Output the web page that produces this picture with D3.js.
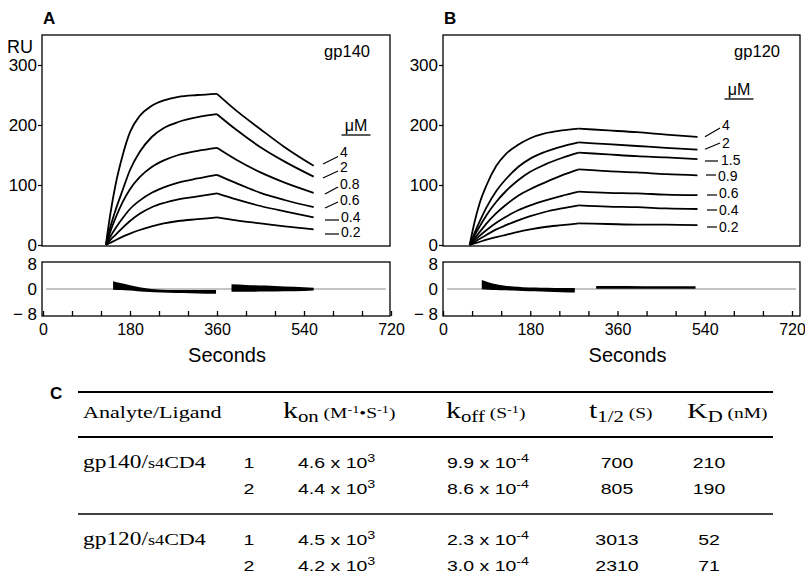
<!DOCTYPE html>
<html>
<head>
<meta charset="utf-8">
<script src="https://cdn.jsdelivr.net/npm/d3@7"></script>
<style>
  body { margin: 0; background: #fff; }
  text { white-space: pre; }
</style>
</head>
<body>
<svg id="fig" width="805" height="577"></svg>
<script>
// ---- sensorgrams, RU against seconds ----
const concA = ['4', '2', '0.8', '0.6', '0.4', '0.2'];
const assocTimeA = [130, 140, 150, 165, 180, 200, 225, 250, 280, 320, 360];
const assocA = [
  [0, 55, 100, 150, 188, 215, 232, 241, 247, 250, 252],
  [0, 32, 58, 92, 125, 155, 180, 195, 205, 213, 218],
  [0, 24, 45, 72, 93, 113, 130, 141, 150, 157, 162],
  [0, 15, 28, 45, 60, 74, 87, 96, 104, 111, 117],
  [0, 9, 17, 29, 40, 52, 63, 70, 76, 81, 86],
  [0, 4, 8, 14, 19, 25, 31, 36, 40, 43, 46]
];
const dissocTimeA = [360, 400, 450, 500, 560];
const dissocA = [
  [252, 224, 193, 163, 132],
  [218, 192, 163, 139, 114],
  [162, 142, 121, 104, 87],
  [117, 103, 87, 75, 63],
  [86, 76, 65, 56, 46],
  [46, 41, 36, 31, 26]
];

const concB = ['4', '2', '1.5', '0.9', '0.6', '0.4', '0.2'];
const assocTimeB = [55, 65, 75, 90, 110, 130, 155, 180, 210, 245, 280];
const assocB = [
  [0, 38, 68, 100, 132, 152, 167, 178, 186, 191, 194],
  [0, 20, 38, 63, 90, 110, 130, 144, 155, 164, 171],
  [0, 16, 30, 50, 72, 90, 108, 122, 134, 145, 154],
  [0, 11, 21, 36, 53, 67, 82, 93, 104, 116, 126],
  [0, 8, 15, 25, 37, 47, 58, 66, 74, 82, 89],
  [0, 5, 10, 17, 26, 33, 41, 48, 55, 61, 66],
  [0, 2.5, 5, 9, 13, 17, 22, 26, 30, 33, 36]
];
const dissocTimeB = [280, 340, 400, 460, 525];
const dissocB = [
  [194, 191, 188, 184, 180],
  [171, 168, 165, 162, 159],
  [154, 151, 148, 146, 143],
  [126, 123, 121, 118, 116],
  [89, 87, 86, 84, 83],
  [66, 64, 63, 61, 60],
  [36, 35, 34, 34, 33]
];

// residual bands (upper / lower edge)
const resTimeA1 = [145, 160, 180, 195, 210, 230, 260, 290, 320, 358];
const resHiA1 = [2.5, 1.9, 1.2, 0.7, 0.3, -0.1, -0.3, -0.3, -0.3, -0.3];
const resLoA1 = [-0.2, -0.3, -0.5, -0.7, -0.9, -1.0, -1.2, -1.3, -1.4, -1.5];
const resTimeA2 = [390, 420, 460, 500, 540, 560];
const resHiA2 = [1.5, 1.3, 1.1, 0.8, 0.6, 0.4];
const resLoA2 = [-0.9, -0.9, -0.8, -0.7, -0.6, -0.5];
const resTimeB1 = [80, 95, 110, 125, 145, 165, 190, 215, 245, 272];
const resHiB1 = [2.9, 2.1, 1.5, 1.1, 0.8, 0.6, 0.5, 0.4, 0.3, 0.3];
const resLoB1 = [-0.1, -0.2, -0.3, -0.4, -0.5, -0.6, -0.7, -0.9, -1.0, -1.1];
const resTimeB2 = [316, 380, 450, 521];
const resHiB2 = [1.0, 1.0, 0.9, 0.9];
const resLoB2 = [0.1, 0.1, 0.1, 0.1];

// ticks
const ruTicks = [0, 100, 200, 300];
const resTicks = [-8, 0, 8];
const timeTicks = [0, 60, 120, 180, 240, 300, 360, 420, 480, 540, 600, 660, 720];
const timeLabels = [0, 180, 360, 540, 720];

// ---- table C ----
const analytes = ['gp140', 'gp120'];
const runs = ['1', '2', '1', '2'];
const konMant = ['4.6', '4.4', '4.5', '4.2'];
const konExp = ['3', '3', '3', '3'];
const koffMant = ['9.9', '8.6', '2.3', '3.0'];
const koffExp = ['-4', '-4', '-4', '-4'];
const tHalf = ['700', '805', '3013', '2310'];
const kd = ['210', '190', '52', '71'];

const SANS = '"Liberation Sans", Arial, Helvetica, sans-serif';
const SERIF = '"Liberation Serif", "Times New Roman", serif';

const svg = d3.select('#fig').attr('font-family', SANS);

function zip(ts, vs) { return ts.map((t, i) => [t, vs[i]]); }

function drawPanel(p) {
    const x = d3.scaleLinear().domain([0, 720]).range(p.xr);
    const y = d3.scaleLinear().domain([0, 300]).range([245, 65]);
    const yr = d3.scaleLinear().domain([-8, 8]).range([314, 264]);
    const g = svg.append('g');

    g.append('text').text(p.letter)
        .attr('x', p.frame[0] + 1).attr('y', 24)
        .attr('font-weight', 'bold').attr('font-size', 17);

    // sensorgram box
    g.append('rect')
        .attr('x', p.frame[0]).attr('y', 35)
        .attr('width', p.frame[1] - p.frame[0]).attr('height', 211)
        .attr('fill', 'none').attr('stroke', '#000').attr('stroke-width', 1.3);

    g.append('g')
        .attr('transform', `translate(${p.frame[0]},0)`)
        .call(d3.axisLeft(y).tickValues(ruTicks).tickSize(4).tickPadding(1))
        .call(a => a.select('.domain').remove())
        .call(a => a.attr('font-family', null).attr('font-size', null))
        .call(a => a.selectAll('line').attr('stroke', '#000').attr('stroke-width', 1.2))
        .call(a => a.selectAll('text').attr('font-size', 17).attr('fill', '#000'));

    if (p.ru) {
        g.append('text').text('RU').attr('x', 7).attr('y', 53).attr('font-size', 18);
    }
    g.append('text').text(p.name)
        .attr('x', p.frame[1] - 20).attr('y', 57)
        .attr('text-anchor', 'end').attr('font-size', 16.5);

    const line = d3.line()
        .x(d => x(d[0])).y(d => y(d[1]))
        .curve(d3.curveMonotoneX);

    p.assoc.forEach((vals, i) => {
        g.append('path').attr('d', line(zip(p.assocTime, vals)))
            .attr('fill', 'none').attr('stroke', '#000').attr('stroke-width', 1.8);
        g.append('path').attr('d', line(zip(p.dissocTime, p.dissoc[i])))
            .attr('fill', 'none').attr('stroke', '#000').attr('stroke-width', 1.8);
    });

    // concentration key
    g.append('text').text('\u03bcM')
        .attr('x', p.mu[0]).attr('y', p.mu[1])
        .attr('text-anchor', 'middle').attr('font-size', 16);
    g.append('line')
        .attr('x1', p.mu[0] - 14.5).attr('x2', p.mu[0] + 14.5)
        .attr('y1', p.mu[1] + 4).attr('y2', p.mu[1] + 4)
        .attr('stroke', '#000').attr('stroke-width', 1.3);

    p.conc.forEach((c, i) => {
        const k = p.keys[i];
        g.append('line')
            .attr('x1', k[0]).attr('y1', k[1]).attr('x2', k[2]).attr('y2', k[3])
            .attr('stroke', '#000').attr('stroke-width', 1.2);
        g.append('text').text(c)
            .attr('x', k[4]).attr('y', k[5] + 5)
            .attr('font-size', 14);
    });

    // residual box
    g.append('rect')
        .attr('x', p.frame[0]).attr('y', 262)
        .attr('width', p.frame[1] - p.frame[0]).attr('height', 54)
        .attr('fill', 'none').attr('stroke', '#000').attr('stroke-width', 1.3);
    g.append('line')
        .attr('x1', p.frame[0] + 4).attr('x2', p.frame[1] - 4)
        .attr('y1', yr(0)).attr('y2', yr(0))
        .attr('stroke', '#8a8a8a').attr('stroke-width', 1);

    const area = d3.area()
        .x(d => x(d[0])).y0(d => yr(d[1])).y1(d => yr(d[2]))
        .curve(d3.curveMonotoneX);
    p.res.forEach(r => {
        g.append('path')
            .attr('d', area(r.t.map((t, i) => [t, r.lo[i], r.hi[i]])))
            .attr('fill', '#000');
    });

    g.append('g')
        .attr('transform', `translate(${p.frame[0]},0)`)
        .call(d3.axisLeft(yr).tickValues(resTicks).tickSize(0).tickPadding(5)
            .tickFormat(d => d < 0 ? '\u2212 ' + Math.abs(d) : d))
        .call(a => a.select('.domain').remove())
        .call(a => a.attr('font-family', null).attr('font-size', null))
        .call(a => a.selectAll('text').attr('font-size', 17).attr('fill', '#000'));

    g.append('g')
        .attr('transform', 'translate(0,316)')
        .call(d3.axisBottom(x).tickValues(timeTicks).tickSizeInner(-5).tickSizeOuter(0).tickPadding(8)
            .tickFormat(d => timeLabels.includes(d) ? d : ''))
        .call(a => a.select('.domain').remove())
        .call(a => a.attr('font-family', null).attr('font-size', null))
        .call(a => a.selectAll('line').attr('stroke', '#000').attr('stroke-width', 1.3))
        .call(a => a.selectAll('text').attr('font-size', 16).attr('fill', '#000'));

    g.append('text').text('Seconds')
        .attr('x', (p.xr[0] + p.xr[1]) / 2 + 10).attr('y', 362)
        .attr('text-anchor', 'middle').attr('font-size', 20);
}

drawPanel({
    letter: 'A', name: 'gp140', ru: true,
    frame: [42, 390], xr: [43, 391],
    conc: concA, assocTime: assocTimeA, assoc: assocA, dissocTime: dissocTimeA, dissoc: dissocA,
    mu: [356, 131],
    // leader x1,y1,x2,y2, label x, label centre y
    keys: [
        [323, 164, 338, 156.5, 340, 152],
        [323, 178, 338, 171, 340, 167],
        [325, 194, 338, 187, 340, 183.5],
        [325, 208, 338, 202, 340, 200],
        [325, 220, 339, 220, 341, 217],
        [325, 234, 339, 234, 341, 232]
    ],
    res: [
        { t: resTimeA1, hi: resHiA1, lo: resLoA1 },
        { t: resTimeA2, hi: resHiA2, lo: resLoA2 }
    ]
});

drawPanel({
    letter: 'B', name: 'gp120', ru: false,
    frame: [443, 800], xr: [443, 792],
    conc: concB, assocTime: assocTimeB, assoc: assocB, dissocTime: dissocTimeB, dissoc: dissocB,
    mu: [739, 95],
    keys: [
        [705, 136.7, 720, 128, 722, 125],
        [705, 149.3, 720, 143, 722, 142.7],
        [705, 161, 718, 161, 721, 160],
        [706, 175, 716, 175, 718, 175.5],
        [707, 195, 717, 195, 719, 193],
        [707, 210, 717, 210, 719, 210],
        [707, 227, 717, 227, 719, 227]
    ],
    res: [
        { t: resTimeB1, hi: resHiB1, lo: resLoB1 },
        { t: resTimeB2, hi: resHiB2, lo: resLoB2 }
    ]
});

// ---- table ----
const SX = 1.3;
const tbl = svg.append('g');

function rich(x, y, parts, opts) {
    opts = opts || {};
    const g = tbl.append('g').attr('transform', `translate(${x},${y}) scale(${SX},1)`);
    const t = g.append('text')
        .attr('text-anchor', opts.anchor || 'start')
        .attr('font-family', opts.family || SANS);
    let prev = 0;
    parts.forEach(pt => {
        const shift = pt.shift || 0;
        t.append('tspan').attr('font-size', pt.size).attr('dy', shift - prev).text(pt.s);
        prev = shift;
    });
}

tbl.append('text').text('C').attr('x', 50).attr('y', 399)
    .attr('font-weight', 'bold').attr('font-size', 17);

[[392, 1.8], [437, 2.2], [514, 1.3]].forEach(r => {
    tbl.append('line').attr('x1', 78).attr('x2', 773).attr('y1', r[0]).attr('y2', r[0])
        .attr('stroke', '#000').attr('stroke-width', r[1]);
});

const hy = 418;
rich(83, hy, [{ s: 'Analyte/Ligand', size: 17 }], { family: SERIF });
rich(283, hy, [
    { s: 'k', size: 23 }, { s: 'on', size: 16, shift: 4 },
    { s: ' (M', size: 15 }, { s: '-1', size: 11, shift: -5 },
    { s: '\u2022S', size: 15 }, { s: '-1', size: 11, shift: -5 }, { s: ')', size: 15 }
], { family: SERIF });
rich(446, hy, [
    { s: 'k', size: 23 }, { s: 'off', size: 16, shift: 4 },
    { s: ' (S', size: 15 }, { s: '-1', size: 11, shift: -5 }, { s: ')', size: 15 }
], { family: SERIF });
rich(589, hy, [
    { s: 't', size: 23 }, { s: '1/2', size: 16, shift: 4 }, { s: ' (S)', size: 15 }
], { family: SERIF });
rich(687, hy, [
    { s: 'K', size: 22 }, { s: 'D', size: 16, shift: 4 }, { s: ' (nM)', size: 15 }
], { family: SERIF });

const rowY = [468, 494, 545, 571];
analytes.forEach((a, i) => {
    rich(83, rowY[i * 2], [
        { s: a + '/', size: 18 }, { s: 's4', size: 14 }, { s: 'CD4', size: 17 }
    ], { family: SERIF });
});
rowY.forEach((ry, i) => {
    rich(249, ry, [{ s: runs[i], size: 15 }], { anchor: 'middle' });
    rich(298, ry, [{ s: konMant[i] + ' x 10', size: 15 }, { s: konExp[i], size: 11, shift: -6 }]);
    rich(447, ry, [{ s: koffMant[i] + ' x 10', size: 15 }, { s: koffExp[i], size: 11, shift: -6 }]);
    rich(617, ry, [{ s: tHalf[i], size: 15 }], { anchor: 'middle' });
    rich(709, ry, [{ s: kd[i], size: 15 }], { anchor: 'middle' });
});
</script>
</body>
</html>
